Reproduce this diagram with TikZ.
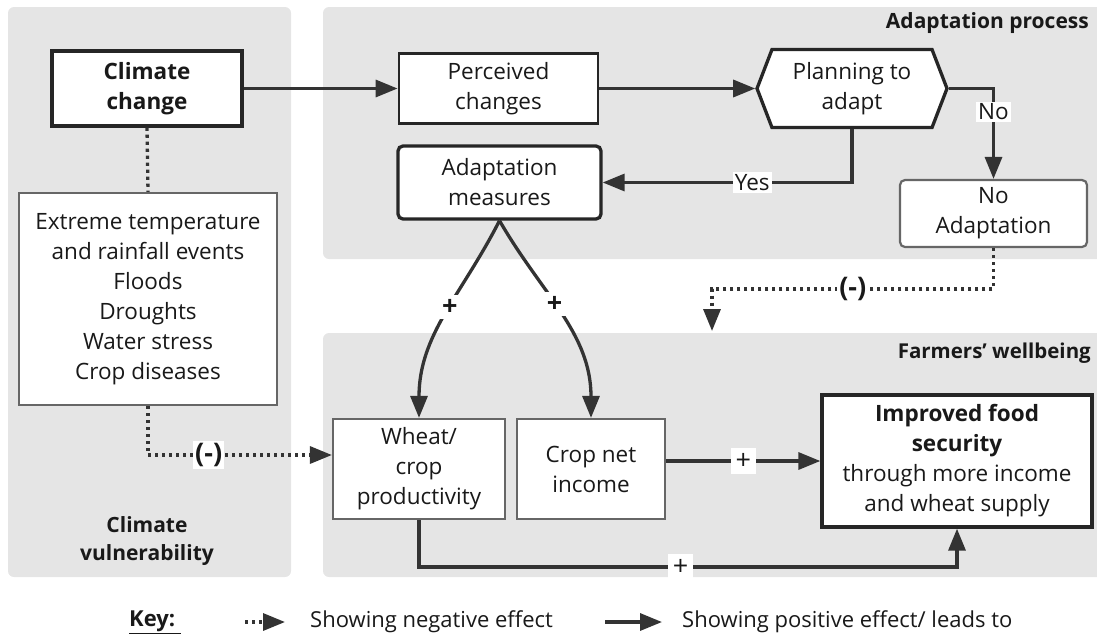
\documentclass[tikz,border=0pt]{standalone}
\usepackage{fontspec}
\setmainfont{Open Sans}
\usetikzlibrary{arrows.meta,shapes.symbols}

\begin{document}
\begin{tikzpicture}[x=1pt, y=-1pt,
  font=\fontsize{22.5}{30}\selectfont,
  every node/.style={text=black!90, align=center, inner sep=0pt},
  arr/.style={line width=3.3pt, draw=black!80, -{Triangle[length=22pt,width=17pt]}},
  neg/.style={arr, dash pattern=on 3.2pt off 3.8pt},
  thickbox/.style={draw=black!85, line width=3.3pt, fill=white},
  thinbox/.style={draw=black!60, line width=2.2pt, fill=white},
  lbl/.style={fill=white, inner sep=2pt},
  sign/.style={fill=white, inner sep=5pt, font=\fontsize{27}{30}\selectfont},
  bigsign/.style={fill=white, inner sep=4pt, font=\fontsize{27}{30}\selectfont\bfseries}]
  \useasboundingbox (0,0) rectangle (1097,638);

  % panels
  \fill[black!10, rounded corners=6pt] (8,7) rectangle (291,577);
  \fill[black!10, rounded corners=6pt] (323,7) rectangle (1104,259);
  \fill[black!10, rounded corners=6pt] (323,333) rectangle (1104,577);
  \node[anchor=east, font=\fontsize{21}{26}\selectfont\bfseries] (adtitle) at (1089,23) {Adaptation process};
  \node[anchor=east, font=\fontsize{20.5}{26}\selectfont\bfseries] (fwtitle) at (1091,353) {Farmers' wellbeing};
  \node[font=\fontsize{21}{28}\selectfont\bfseries] (cvtitle) at (147,541) {Climate\\vulnerability};

  % boxes
  \node[thickbox, minimum width=190pt, minimum height=75pt, font=\fontsize{22.5}{30}\selectfont\bfseries] (clim) at (147,88.5) {Climate\\change};
  \node[thinbox, minimum width=258pt, minimum height=212pt] (extr) at (148,299) {Extreme temperature\\and rainfall events\\Floods\\Droughts\\Water stress\\Crop diseases};
  \node[thickbox, line width=2.8pt, minimum width=199pt, minimum height=70pt] (perc) at (498.5,88.5) {Perceived\\changes};
  \node[thickbox, signal, signal to=east and west, signal pointer angle=138, minimum width=190pt, minimum height=78pt] (plan) at (852,88.5) {Planning to\\adapt};
  \node[thickbox, rounded corners=5pt, minimum width=203pt, minimum height=73pt] (meas) at (499.5,182.5) {Adaptation\\measures};
  \node[thinbox, rounded corners=5pt, minimum width=187pt, minimum height=67pt] (noad) at (993.5,213.5) {No\\Adaptation};
  \node[thinbox, minimum width=172pt, minimum height=100pt] (wheat) at (419,469) {Wheat/\\crop\\productivity};
  \node[thinbox, minimum width=148pt, minimum height=100pt] (crop) at (591,469) {Crop net\\income};
  \node[thickbox, minimum width=270pt, minimum height=132pt] (food) at (957,461) {{\bfseries Improved food}\\{\bfseries security}\\through more income\\and wheat supply};

  % connectors
  \draw[arr] (clim.east) -- (perc.west);
  \draw[arr] (perc.east) -- (plan.west);
  \draw[arr] (plan.south) |- node[lbl, pos=0.7] {Yes} (meas.east);
  \draw[arr] (plan.east) -| node[lbl, pos=0.63] {No} (noad.north);
  \draw[line width=3.3pt, dash pattern=on 3.2pt off 3.8pt, draw=black!80] (clim.south) -- (extr.north);
  \draw[neg] (extr.south) |- node[lbl, pos=0.665, font=\fontsize{27}{30}\selectfont\bfseries] {(-)} ([yshift=14pt]wheat.west);
  \coordinate (nbend) at (712,289);
  \coordinate (nfree) at (712,331);
  \draw[neg] (noad.south) |- node[lbl, pos=0.75, font=\fontsize{27}{30}\selectfont\bfseries] {(-)} (nbend) -- (nfree);
  \draw[arr] (meas.south) to[out=-117, in=90] node[bigsign, pos=0.45] {+} (wheat.north);
  \draw[arr] (meas.south) to[out=-60, in=90] node[bigsign, pos=0.44] {+} (crop.north);
  \draw[arr] (crop.east |- food.west) -- node[sign] {+} (food.west);
  \draw[arr] (wheat.south) -- ++(0,47) -| node[sign, pos=0.243] {+} (food.south);

  % key
  \node[font=\fontsize{22}{26}\selectfont\bfseries] (key) at (155,622) {\underline{Key:~}};
  \coordinate (kn1) at (245,622);
  \coordinate (kn2) at (285,622);
  \draw[neg] (kn1) -- (kn2);
  \node[anchor=west, font=\fontsize{22}{26}\selectfont] (kneg) at (310,622) {Showing negative effect};
  \coordinate (kp1) at (605,622);
  \coordinate (kp2) at (662,622);
  \draw[arr] (kp1) -- (kp2);
  \node[anchor=west, font=\fontsize{22}{26}\selectfont] (kpos) at (682,622) {Showing positive effect/ leads to};
\end{tikzpicture}
\end{document}
